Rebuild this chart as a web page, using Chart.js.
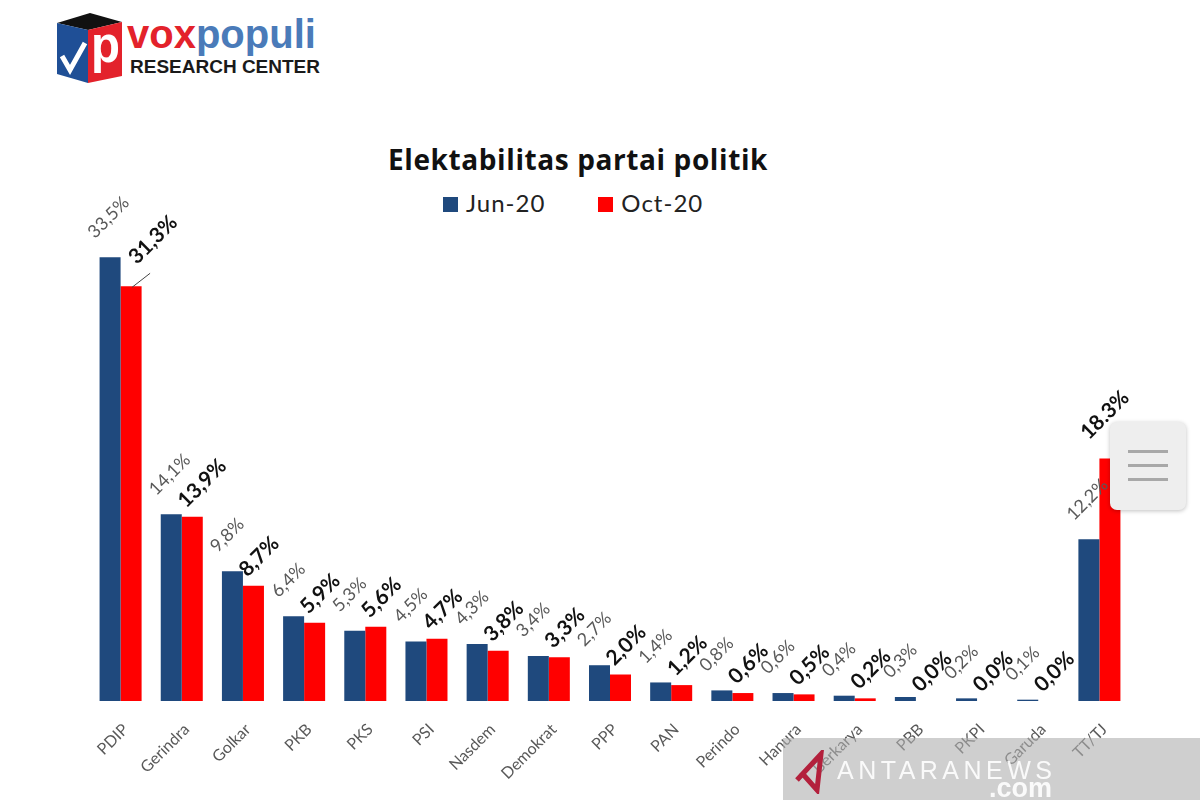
<!DOCTYPE html>
<html>
<head>
<meta charset="utf-8">
<script src="https://cdn.jsdelivr.net/npm/chart.js@4.4.0/dist/chart.umd.min.js"></script>
<style>
  body { margin: 0; background: #fff; width: 1200px; height: 800px; overflow: hidden; position: relative; font-family: Lato, "Open Sans", sans-serif; }
  #chart { position: absolute; left: 0; top: 0; }
  #title { position: absolute; left: 328px; width: 500px; top: 144px; text-align: center; font: bold 28px/30px "Open Sans", sans-serif; letter-spacing: 0.6px; color: #111; white-space: nowrap; }
  #legend { position: absolute; left: 443px; top: 191px; display: flex; font: 24px/24px Lato, sans-serif; letter-spacing: 1px; color: #222; }
  #legend .item { display: flex; align-items: flex-start; margin-right: 53px; }
  #legend .box { width: 15px; height: 15px; margin-top: 6px; margin-right: 8px; }
  #logo { position: absolute; left: 55px; top: 10px; }
  #brand { position: absolute; left: 127px; top: 14px; font: bold 40px/40px "Liberation Sans", Arial, sans-serif; }
  #brand .vox { color: #e3222b; }
  #brand .pop { color: #4a7bb9; }
  #brand2 { position: absolute; left: 130px; top: 57px; font: bold 19px/19px "Liberation Sans", Arial, sans-serif; color: #1a1a1a; }
  #menu { position: absolute; left: 1110px; top: 422px; width: 76px; height: 88px; background: #eeeeee; border-radius: 7px; box-shadow: 0 1px 4px rgba(0,0,0,0.25); }
  #menu span { position: absolute; left: 18px; width: 40px; height: 3px; background: #a8a8a8; }
  #mark { position: absolute; left: 783px; top: 738px; width: 417px; height: 62px; background: rgba(175,175,175,0.6); }
  #mark .t1 { position: absolute; left: 54px; top: 20px; font: 25px/25px "Liberation Sans", Arial, sans-serif; letter-spacing: 4.5px; color: rgba(255,255,255,0.9); }
  #mark .t2 { position: absolute; left: 206px; top: 37px; font: bold 27px/26px "Liberation Sans", Arial, sans-serif; color: rgba(255,255,255,0.9); }
  #mark svg { position: absolute; left: 8px; top: 12px; }
</style>
</head>
<body>

<svg id="logo" width="72" height="80">
  <polygon points="2,13 35,3 67,12 33,20" fill="#111"/>
  <polygon points="2,13 33,20 33,73 2,64" fill="#1f4f96"/>
  <polygon points="33,20 67,12 67,66 33,73" fill="#e3222b"/>
  <polyline points="7,46 15,60 30,33" fill="none" stroke="#fff" stroke-width="5"/>
  <text x="36" y="52" font-family="Liberation Sans, Arial" font-weight="bold" font-size="52" fill="#fff" textLength="29" lengthAdjust="spacingAndGlyphs">p</text>
</svg>
<div id="brand"><span class="vox">vox</span><span class="pop">populi</span></div>
<div id="brand2">RESEARCH CENTER</div>

<div id="title">Elektabilitas partai politik</div>
<div id="legend"></div>

<canvas id="chart" width="1200" height="800"></canvas>

<div id="menu"><span style="top:28px"></span><span style="top:42px"></span><span style="top:56px"></span></div>
<div id="mark">
  <svg width="44" height="44"><polyline points="6,30 30,4 26,40 10,22" fill="none" stroke="#b3203c" stroke-width="5"/></svg>
  <div class="t1">ANTARANEWS</div>
  <div class="t2">.com</div>
</div>

<script>
/////////////////* Data *//////////////////
/////////////////////////////////////////////////////////////////
const parties = ['PDIP', 'Gerindra', 'Golkar', 'PKB', 'PKS', 'PSI', 'Nasdem', 'Demokrat',
  'PPP', 'PAN', 'Perindo', 'Hanura', 'Berkarya', 'PBB', 'PKPI', 'Garuda', 'TT/TJ'];
const jun20 = [33.5, 14.1, 9.8, 6.4, 5.3, 4.5, 4.3, 3.4, 2.7, 1.4, 0.8, 0.6, 0.4, 0.3, 0.2, 0.1, 12.2];
const oct20 = [31.3, 13.9, 8.7, 5.9, 5.6, 4.7, 3.8, 3.3, 2.0, 1.2, 0.6, 0.5, 0.2, 0.0, 0.0, 0.0, 18.3];
const junText = ['33,5%', '14,1%', '9,8%', '6,4%', '5,3%', '4,5%', '4,3%', '3,4%', '2,7%',
  '1,4%', '0,8%', '0,6%', '0,4%', '0,3%', '0,2%', '0,1%', '12,2%'];
const octText = ['31,3%', '13,9%', '8,7%', '5,9%', '5,6%', '4,7%', '3,8%', '3,3%', '2,0%',
  '1,2%', '0,6%', '0,5%', '0,2%', '0,0%', '0,0%', '0,0%', '18.3%'];

const BLUE = '#1f497d';
const RED = '#ff0000';

/* rotated value labels above the bars, like the excel original */
const valueLabels = {
  id: 'valueLabels',
  afterDatasetsDraw(chart) {
    const ctx = chart.ctx;
    const texts = [junText, octText];
    // labels that were dragged by hand in the original
    const nudge = { 1: { 0: [6, -21], 16: [-21, -18] } };
    chart.data.datasets.forEach((ds, di) => {
      chart.getDatasetMeta(di).data.forEach((bar, i) => {
        let dx = di === 0 ? -15 : -6;
        let dy = di === 0 ? -18 : -8;
        if (nudge[di] && nudge[di][i]) { dx = nudge[di][i][0]; dy = nudge[di][i][1]; }
        ctx.save();
        ctx.translate(bar.x + dx, bar.y + dy);
        ctx.rotate(-Math.PI / 4);
        ctx.font = di === 0 ? '18px Lato, sans-serif' : 'bold 21px Lato, sans-serif';
        ctx.fillStyle = di === 0 ? '#595959' : '#111';
        ctx.textAlign = 'left';
        ctx.textBaseline = 'alphabetic';
        ctx.fillText(texts[di][i], 0, 0);
        ctx.restore();
        if (di === 1 && i === 0) {
          // leader line of the moved PDIP label
          ctx.save();
          ctx.strokeStyle = '#444';
          ctx.lineWidth = 1;
          ctx.beginPath();
          ctx.moveTo(bar.x + 1, bar.y + 1);
          ctx.lineTo(bar.x + 19, bar.y - 13);
          ctx.stroke();
          ctx.restore();
        }
      });
    });
  }
};

const chart = new Chart(document.getElementById('chart').getContext('2d'), {
  type: 'bar',
  data: {
    labels: parties,
    datasets: [
      { label: 'Jun-20', data: jun20, backgroundColor: BLUE },
      { label: 'Oct-20', data: oct20, backgroundColor: RED }
    ]
  },
  options: {
    responsive: false,
    animation: false,
    categoryPercentage: 0.687,
    barPercentage: 1,
    layout: { padding: { top: 171, left: 90, right: 70, bottom: 0 } },
    scales: {
      x: {
        grid: { display: false },
        border: { display: false },
        ticks: {
          color: '#595959',
          font: { family: 'Lato', size: 16 },
          minRotation: 45,
          maxRotation: 45,
          autoSkip: false,
          padding: 11,
          labelOffset: 5
        },
        afterFit(scale) { scale.height = 99; }
      },
      y: { display: false, min: 0, max: 40 }
    },
    plugins: {
      legend: { display: false },
      title: { display: false },
      tooltip: { enabled: false }
    }
  },
  plugins: [valueLabels]
});

/* legend built from the chart's own datasets */
const legend = document.getElementById('legend');
chart.data.datasets.forEach(ds => {
  const item = document.createElement('div');
  item.className = 'item';
  item.innerHTML = '<div class="box" style="background:' + ds.backgroundColor + '"></div>' + ds.label;
  legend.appendChild(item);
});
</script>
</body>
</html>
